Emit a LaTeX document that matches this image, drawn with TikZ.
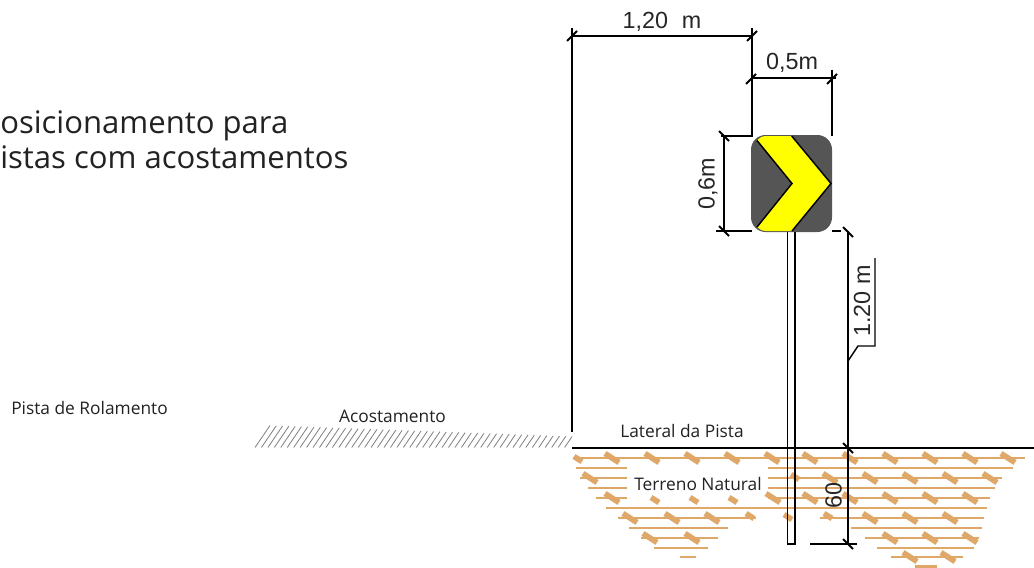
\documentclass[tikz,border=0pt]{standalone}
\usepackage{fontspec}
\setmainfont{Open Sans}
\newfontfamily\dimfont{Liberation Sans}
\definecolor{soil}{HTML}{E0A868}
\definecolor{signgray}{HTML}{555555}
\definecolor{signyellow}{RGB}{255,255,0}
\definecolor{labeltxt}{HTML}{222222}
\definecolor{hatchgray}{HTML}{808080}
\tikzset{
  dimline/.style={draw=black,line width=1.5pt},
  tickmark/.style={draw=black,line width=1.4pt},
  soilline/.style={draw=soil,line width=2pt},
  soilmark/.style={draw=soil,line width=4.2pt},
  hatchline/.style={draw=hatchgray,line width=0.6pt},
  dimlabel/.style={font=\dimfont\fontsize{17.5}{20}\selectfont,inner sep=0pt,text=black!85},
  siteLabel/.style={font=\fontsize{13}{16}\selectfont,inner sep=0pt,text=labeltxt},
  headLabel/.style={font=\fontsize{23.3}{28}\selectfont,inner sep=0pt,text=labeltxt,anchor=base west},
}
\begin{document}
\begin{tikzpicture}[x=0.75pt,y=-0.75pt]
\useasboundingbox (0,0) rectangle (1034,567);
\fill[white] (0,0) rectangle (1034,567);

% heading and site labels
\node[headLabel] (head1) at (0,133) {osicionamento para};
\node[headLabel] (head2) at (0,168) {istas com acostamentos};
\node[siteLabel,anchor=base west] (pista) at (11,414) {Pista de Rolamento};
\node[siteLabel] (acost) at (392.5,416) {Acostamento};
\node[siteLabel] (lateral) at (682,431) {Lateral da Pista};

% soil lines
\foreach \y/\a/\b in {458/573/1025,468/576/627,468/768/1013,478/580/627,478/768/1002,
  488/588/627,488/768/995,498/596/627,498/768/990,508/606/987,518/618/756,518/820/984,
  528/629/728,528/851/982,538/641/718,538/865/979,548/654/708,548/877/974,557/680/696,
  557/891/963,566.5/915/937}
  \draw[soilline] (\a,\y) -- (\b,\y);
% soil slanted marks
\foreach \x/\y in {612/458,652/458,692/458,732/458,772/458,810/458,850/458,890/458,930/458,970/458,1008/458,
  590/478,830/478,870/478,910/478,950/478,990/478,
  612/498,773/498,810/498,850/498,890/498,930/498,970/498,
  630/518,672/518,712/518,870/518,910/518,950/518,
  650/538,692/538,890/538,930/538,970/538,
  910/557,948/557}
  \draw[soilmark] (\x-7,\y-4.5) -- (\x+7,\y+4.5);
\foreach \x/\y in {655/500,694/500,733/500,750/516,788/517,828/516,578/459,795/477}
  \draw[soilmark] (\x-4,\y-2.5) -- (\x+4,\y+2.5);
\node[siteLabel] (terreno) at (698,484) {Terreno Natural};

% shoulder hatch
\foreach \i in {0,...,48}{
  \pgfmathsetmacro{\xa}{255+6.45*\i}
  \pgfmathsetmacro{\h}{22-11*\i/48}
  \draw[hatchline] (\xa,447.5) -- (\xa+\h*0.68,447.5-\h);
}

% ground line and post
\coordinate (gl) at (572,448);
\coordinate (gr) at (1034,448);
\draw[dimline] (gl) -- (gr);
\draw[draw=black,line width=1.4pt] (787.5,231) -- (787.5,544) -- (795,544) -- (795,231);

% sign
\path[fill=signgray,rounded corners=11pt] (751,135) rectangle (832,232);
\path[fill=signyellow] (757,140.5) .. controls (759,138) and (762,136) .. (766,136) -- (791.7,136) -- (831,183.5) -- (792,231) -- (766,231) .. controls (762,231) and (759,229) .. (757,227) -- (792,183.5) -- cycle;
\draw[draw=black,line width=1.1pt] (757,140.5) -- (792,183.5) -- (757,227);
\draw[draw=black,line width=1.1pt] (791.7,136) -- (831,183.5) -- (792,231);

% dimensions
\draw[dimline] (572,28) -- (572,432);
\draw[dimline] (572,36) -- (752,36);
\draw[dimline] (751.5,28) -- (751.5,136) -- (721,136);
\draw[dimline] (751,78.5) -- (836,78.5);
\draw[dimline] (831.5,70) -- (831.5,136);
\draw[dimline] (724,136) -- (724,231);
\draw[dimline] (716,231) -- (752,231);
\draw[dimline] (832,231) -- (841,231);
\draw[dimline] (848,231) -- (848,544);
\draw[dimline] (810,544) -- (857,544);
\draw[draw=black,line width=1.1pt] (875,258) -- (875,346) -- (858,346) -- (848,361);

% ticks
\foreach \x/\y in {572/36,752/36,751/79,832/79}
  \draw[tickmark] (\x-5,\y+5) -- (\x+5,\y-5);
\foreach \x/\y in {724/136,724/231,848/232,848/448,848/544}
  \draw[tickmark] (\x-5,\y-5) -- (\x+5,\y+5);

% dimension labels
\node[dimlabel] (d120) at (662,22) {1,20\hspace{0.6em}m};
\node[dimlabel] (d05) at (792,62.5) {0,5m};
\node[dimlabel,rotate=90] (d06) at (708,184) {0,6m};
\node[dimlabel,rotate=90] (d120v) at (862,301) {1.20\hspace{0.3em}m};
\node[dimlabel,rotate=90] (d60) at (833.5,495.5) {60};
\end{tikzpicture}
\end{document}
